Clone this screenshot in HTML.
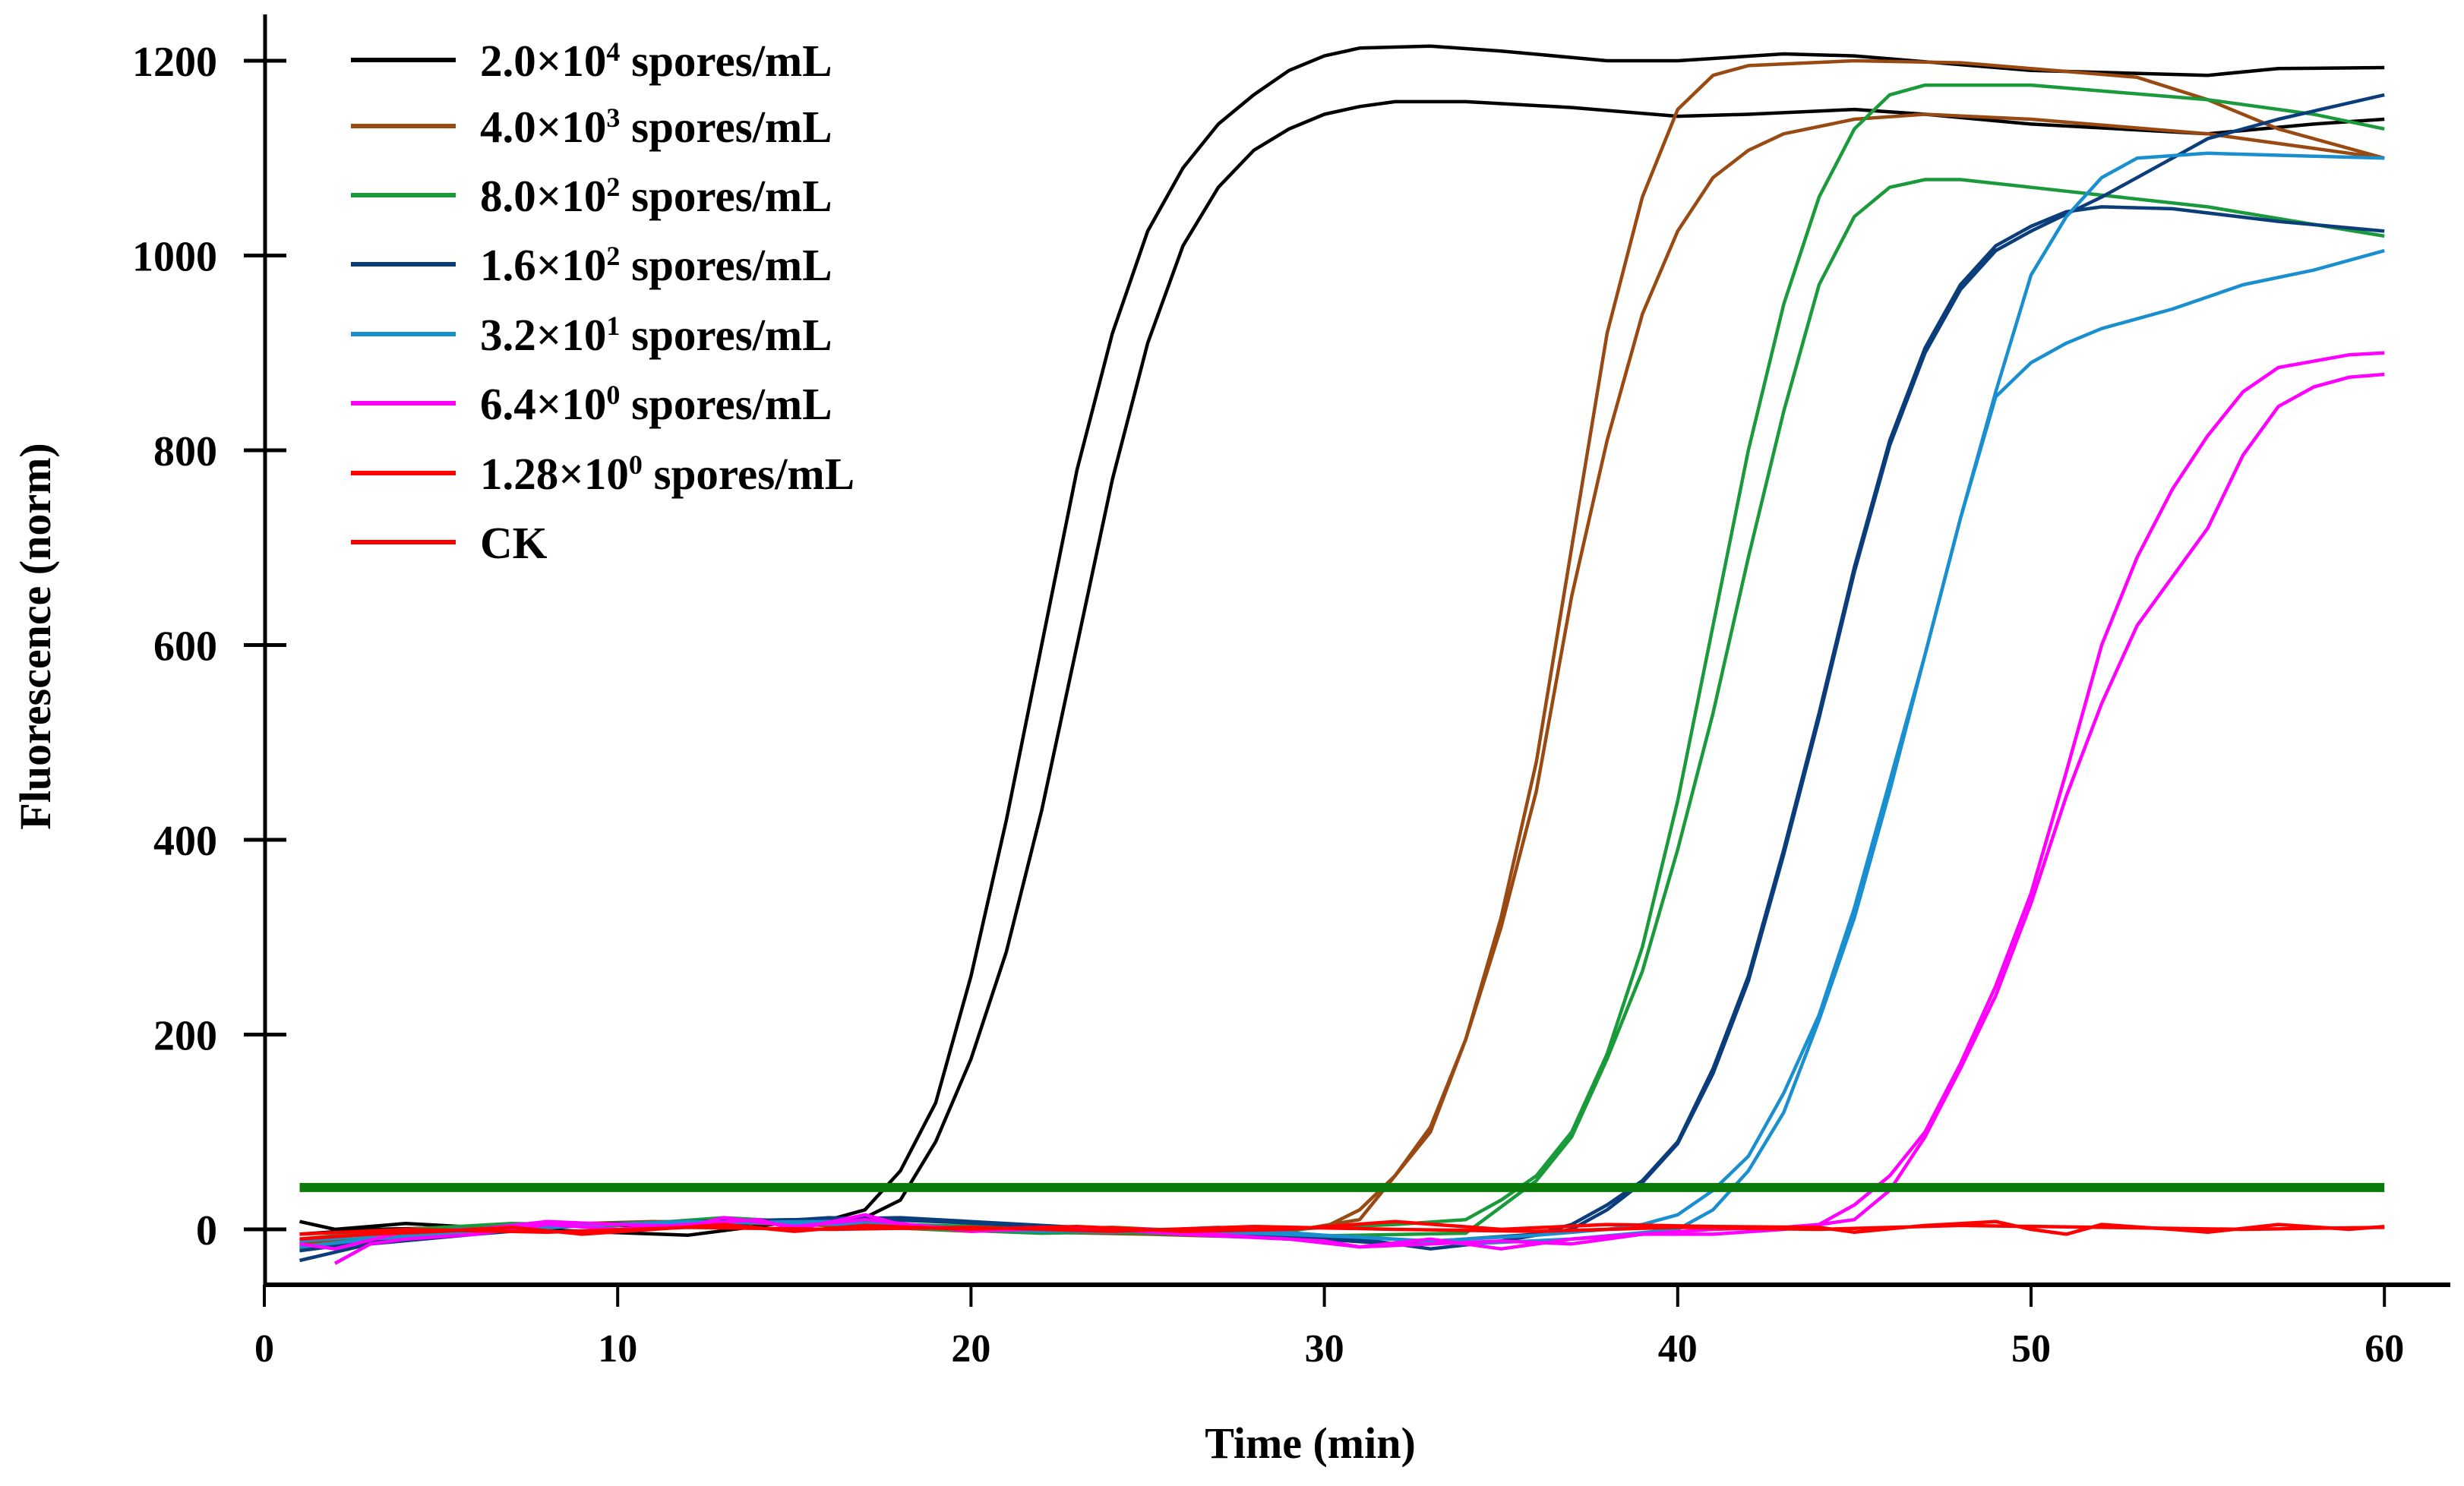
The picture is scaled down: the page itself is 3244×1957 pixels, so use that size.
<!DOCTYPE html>
<html><head><meta charset="utf-8">
<style>
html,body{margin:0;padding:0;background:#fff;}
svg{display:block;font-family:"Liberation Serif",serif;font-weight:bold;}
</style></head>
<body>
<svg id="chart" width="3244" height="1957" viewBox="0 0 3244 1957" xmlns="http://www.w3.org/2000/svg">
<g id="axes"></g>
<g id="series"></g>
<g id="legend"></g>
<text x="1725" y="1920" font-size="58" text-anchor="middle">Time (min)</text>
<text x="0" y="0" font-size="58" text-anchor="middle" transform="translate(66,838) rotate(-90)">Fluorescence (norm)</text>
</svg>
<script>
const xTicks=[0,10,20,30,40,50,60];
const yTicks=[0,200,400,600,800,1000,1200];
const thresholdValue=43;
const legendLabels=[["2.0×10","4"],["4.0×10","3"],["8.0×10","2"],["1.6×10","2"],["3.2×10","1"],["6.4×10","0"],["1.28×10","0"],["CK",""]];
const legendColors=["#000000","#994a12","#1a9a3a","#0a3d7a","#1a8fd0","#ff00ff","#ff0000","#ff0000"];

const black1T=[1,2,4,6,9,12,15,16,17,18,19,20,21,22,23,24,25,26,27,28,29,30,31,33,35,38,40,43,45,50,55,57,60];
const black1V=[8,0,6,2,-2,-6,8,10,20,60,130,260,420,600,780,920,1025,1090,1135,1165,1190,1205,1213,1215,1210,1200,1200,1207,1205,1190,1185,1192,1193];
const black2T=[1,3,6,10,14,17,18,19,20,21,22,23,24,25,26,27,28,29,30,31,32,34,37,40,42,45,47,50,55,58,60];
const black2V=[-5,0,2,4,6,12,30,90,175,285,430,600,770,910,1010,1070,1108,1130,1145,1153,1158,1158,1152,1143,1145,1150,1145,1135,1125,1135,1140];
const brown1T=[1,3,5,8,11,14,17,20,24,27,30,31,32,33,34,35,36,37,38,39,40,41,42,45,48,50,53,55,57,60];
const brown1V=[-12,-8,0,5,8,6,3,-2,2,-3,2,20,55,105,195,320,480,700,920,1060,1150,1185,1195,1200,1198,1192,1183,1160,1130,1100];
const brown2T=[1,4,7,10,13,16,19,22,25,28,31,33,34,35,36,37,38,39,40,41,42,43,45,47,50,55,58,60];
const brown2V=[-15,-5,3,6,10,4,0,-3,-5,-8,10,100,195,310,450,650,810,940,1025,1080,1108,1125,1140,1145,1140,1125,1110,1100];
const green1T=[1,3,6,9,12,15,18,21,24,27,30,32,34,35,36,37,38,39,40,41,42,43,44,45,46,47,50,55,58,60];
const green1V=[-20,-8,0,5,8,10,5,2,-3,-6,2,5,10,30,55,100,180,290,440,620,800,950,1060,1130,1165,1175,1175,1160,1145,1130];
const green2T=[1,4,7,10,13,16,19,22,25,28,31,34,36,37,38,39,40,41,42,43,44,45,46,47,48,50,55,60];
const green2V=[-10,0,6,4,12,6,0,-4,-2,-8,-6,-4,50,95,175,265,390,530,690,840,970,1040,1070,1078,1078,1070,1050,1020];
const navy1T=[1,3,6,9,12,15,18,20,23,26,29,32,34,36,37,38,39,40,41,42,43,44,45,46,47,48,49,50,51,52,54,57,60];
const navy1V=[-32,-15,-5,4,8,10,12,8,2,-3,-8,-15,-10,-5,5,25,50,90,165,260,390,530,680,810,905,970,1010,1030,1045,1050,1048,1035,1025];
const navy2T=[1,4,7,10,13,16,19,22,25,28,31,33,35,37,38,39,40,41,42,43,44,45,46,47,48,49,50,52,54,55,57,60];
const navy2V=[-22,-8,2,6,5,12,8,3,-2,-6,-10,-20,-12,0,20,48,88,160,255,385,525,675,805,900,965,1005,1025,1060,1100,1120,1140,1165];
const blue1T=[1,3,6,9,12,15,18,21,24,27,30,33,36,38,39,40,41,42,43,44,45,46,47,48,49,50,51,52,53,55,58,60];
const blue1V=[-18,-10,-3,4,8,6,4,0,-3,2,-6,-12,-6,0,5,15,40,75,140,220,330,460,590,730,860,980,1040,1080,1100,1105,1102,1100];
const blue2T=[1,4,7,10,13,16,19,22,25,28,31,34,37,40,41,42,43,44,45,46,47,48,49,50,51,52,54,56,58,60];
const blue2V=[-12,-4,2,5,7,8,2,-2,0,-4,-8,-15,-10,0,20,60,120,215,320,450,590,730,855,890,910,925,945,970,985,1005];
const mag1T=[2,3,4,6,8,10,12,14,15,17,18,20,22,25,28,30,31,33,35,37,39,41,43,44,45,46,47,48,49,50,51,52,53,54,55,56,57,59,60];
const mag1V=[-35,-15,-10,-5,5,0,5,10,0,15,5,0,2,0,-8,-12,-18,-10,-20,-10,-5,0,2,5,25,55,100,170,250,345,470,600,690,760,815,860,885,898,900];
const mag2T=[1,2,4,6,8,10,12,13,15,17,20,23,26,29,31,33,35,37,39,41,43,45,46,47,48,49,50,51,52,53,54,55,56,57,58,59,60];
const mag2V=[-15,-20,-2,0,8,5,3,12,3,10,-2,2,-5,-10,-18,-15,-12,-15,-5,-5,0,10,40,95,165,240,335,445,540,620,670,720,795,845,865,875,878];
const red1T=[1,3,5,7,9,11,13,15,17,20,23,26,29,32,35,38,41,44,45,47,49,50,51,52,54,55,57,59,60];
const red1V=[-10,-5,-2,2,-5,0,5,-2,4,0,3,-2,0,8,0,5,3,2,-3,4,8,0,-5,5,0,-3,5,0,3];
const red2T=[1,4,8,12,16,20,24,28,32,36,40,44,48,52,56,60];
const red2V=[-5,0,-3,2,0,2,-2,3,0,-2,2,0,4,2,0,2];

const seriesList=[
 ["series-2e4-rep1",black1T,black1V,0],["series-2e4-rep2",black2T,black2V,0],
 ["series-4e3-rep1",brown1T,brown1V,1],["series-4e3-rep2",brown2T,brown2V,1],
 ["series-8e2-rep1",green1T,green1V,2],["series-8e2-rep2",green2T,green2V,2],
 ["series-1.6e2-rep1",navy1T,navy1V,3],["series-1.6e2-rep2",navy2T,navy2V,3],
 ["series-3.2e1-rep1",blue1T,blue1V,4],["series-3.2e1-rep2",blue2T,blue2V,4],
 ["series-6.4e0-rep1",mag1T,mag1V,5],["series-6.4e0-rep2",mag2T,mag2V,5],
 ["series-1.28e0",red1T,red1V,6],["series-ck",red2T,red2V,7]
];

const NS="http://www.w3.org/2000/svg";
function xs(t){return 348+t*46.52;}
function ys(v){return 1619-v*1.2825;}
function mk(tag,attrs,parent){const e=document.createElementNS(NS,tag);for(const k in attrs)e.setAttribute(k,attrs[k]);parent.appendChild(e);return e;}

const axes=document.getElementById('axes');
let a=mk('line',{x1:349,y1:19,x2:349,y2:1692,stroke:'#000','stroke-width':5},axes);


a=mk('line',{x1:347,y1:1692,x2:3226,y2:1692,stroke:'#000','stroke-width':6},axes);


for(const t of xTicks){
 const l=mk('line',{x1:xs(t),y1:1692,x2:xs(t),y2:1721,stroke:'#000','stroke-width':4},axes);
 
 
 const tx=mk('text',{x:xs(t),y:1793,'font-size':52,'text-anchor':'middle'},axes);
 tx.textContent=t;
 
 
}
for(const v of yTicks){
 const l=mk('line',{x1:321,y1:ys(v),x2:377,y2:ys(v),stroke:'#000','stroke-width':5},axes);
 
 
 const tx=mk('text',{x:286,y:ys(v)+20,'font-size':56,'text-anchor':'end'},axes);
 tx.textContent=v;
 
 
}
const sg=document.getElementById('series');
for(const s of seriesList){
 const [name,T,V,ci]=s;
 let d='';
 for(let i=0;i<T.length;i++)d+=(i?'L':'M')+xs(T[i]).toFixed(1)+','+ys(V[i]).toFixed(1);
 const p=mk('path',{d:d,fill:'none',stroke:legendColors[ci],'stroke-width':4.5,'stroke-linejoin':'round'},sg);
 
 
}
const th=mk('line',{x1:xs(1),y1:ys(thresholdValue),x2:xs(60),y2:ys(thresholdValue),stroke:'#0a7a0a','stroke-width':12},sg);



const lg=document.getElementById('legend');
const rowsY=[79,166,257,348,440,531,623,714];
legendLabels.forEach((lab,i)=>{
 const g=mk('g',{},lg);
 
 
 mk('line',{x1:462,y1:rowsY[i],x2:600,y2:rowsY[i],stroke:legendColors[i],'stroke-width':6},g);
 const tx=mk('text',{x:632,y:rowsY[i]+21,'font-size':59},g);
 if(lab[1]===''){tx.textContent=lab[0];}
 else{
  tx.appendChild(document.createTextNode(lab[0]));
  const sp=mk('tspan',{dy:-20,'font-size':36},tx);sp.textContent=lab[1];
  const sp2=mk('tspan',{dy:20},tx);sp2.textContent=' spores/mL';
 }
});
</script>
</body></html>
